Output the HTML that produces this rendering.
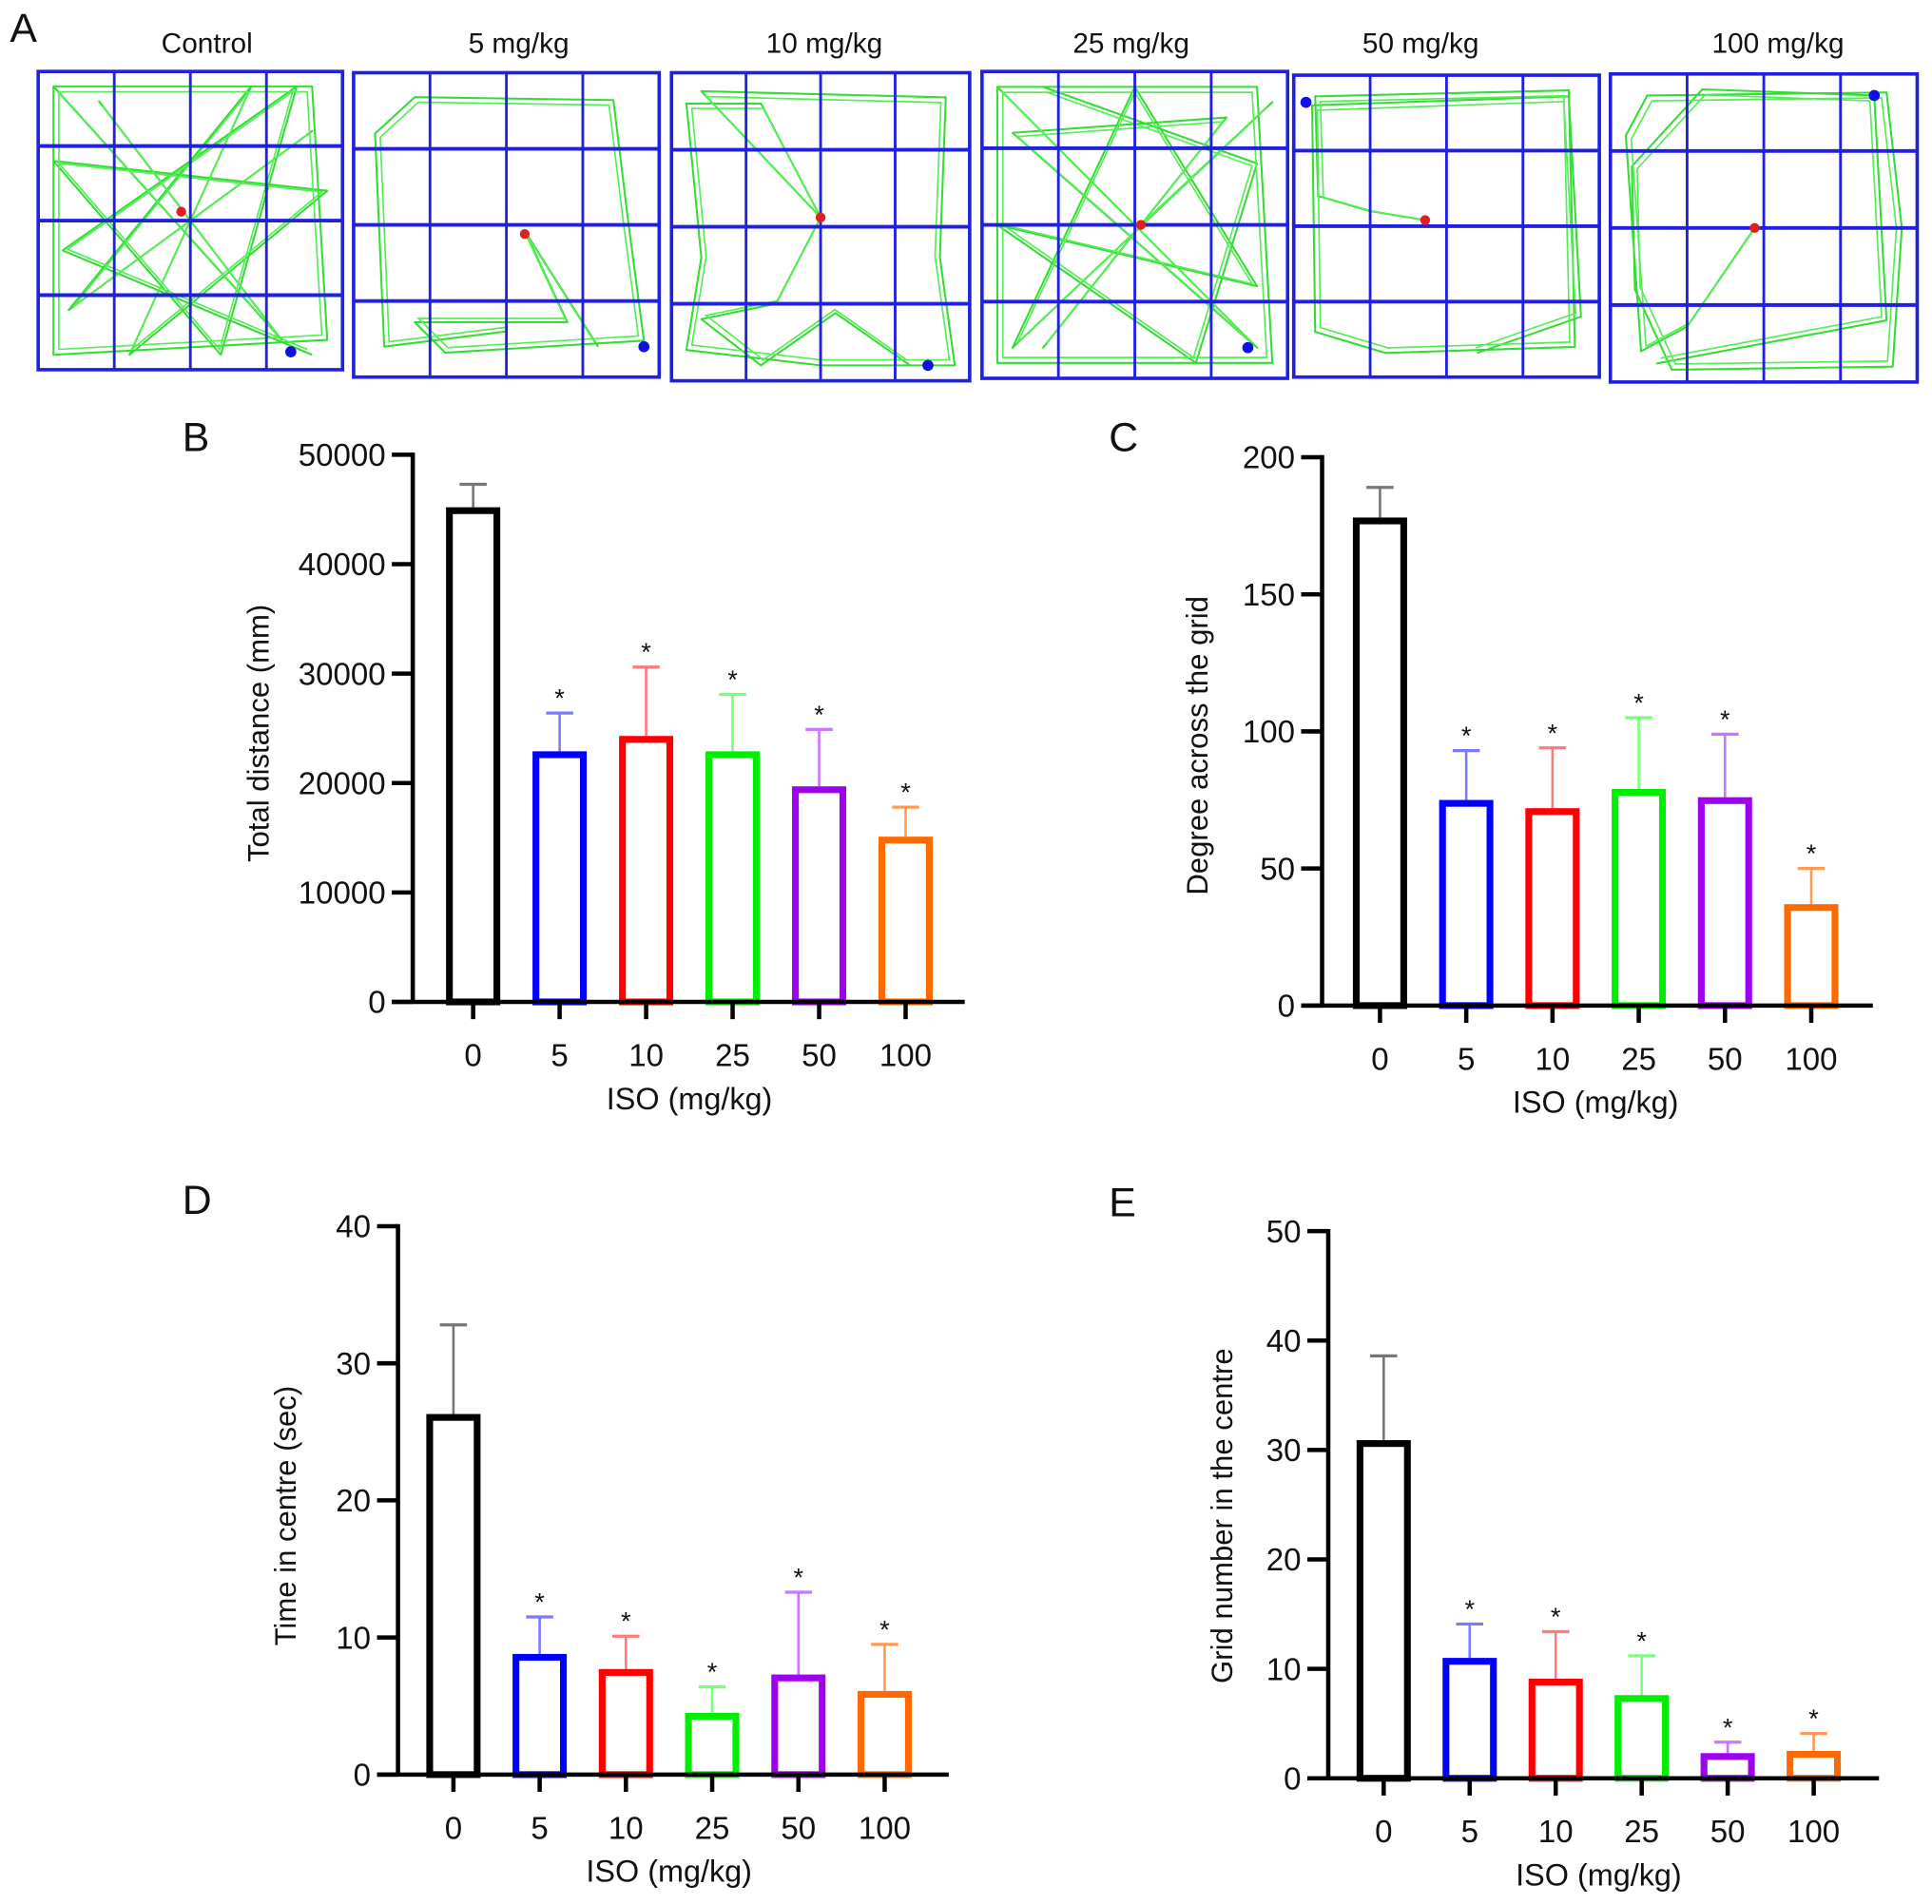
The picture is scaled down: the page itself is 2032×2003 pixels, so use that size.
<!DOCTYPE html>
<html><head><meta charset="utf-8"><style>
html,body{margin:0;padding:0;background:#fff}
svg{display:block}
text{font-family:"Liberation Sans",Arial,sans-serif;fill:#111}
</style></head><body>
<svg id="fig" width="2032" height="2003" viewBox="0 0 1568 1545" preserveAspectRatio="none" xmlns="http://www.w3.org/2000/svg">
<g id="panelA"></g>
<g id="charts"></g>
</svg>
<script>
// ===== Chart data =====
const categories = ["0","5","10","25","50","100"];
const distanceValues = [45200, 22900, 24300, 22900, 19700, 15100];
const distanceErr = [47300, 26400, 30600, 28100, 24900, 17800];
const distanceTicks = [0,10000,20000,30000,40000,50000];
const degreeValues = [178, 75, 72, 79, 76, 37];
const degreeErr = [189, 93, 94, 105, 99, 50];
const degreeTicks = [0,50,100,150,200];
const timeValues = [26.3, 8.8, 7.7, 4.5, 7.3, 6.1];
const timeErr = [32.8, 11.5, 10.1, 6.4, 13.3, 9.5];
const timeTicks = [0,10,20,30,40];
const gridValues = [30.9, 11.0, 9.1, 7.6, 2.3, 2.5];
const gridErr = [38.6, 14.1, 13.4, 11.2, 3.3, 4.1];
const gridTicks = [0,10,20,30,40,50];
const significant = [false, true, true, true, true, true];

const NS = "http://www.w3.org/2000/svg";
function mk(tag, attrs, parent){
  const e = document.createElementNS(NS, tag);
  for (const k in attrs) e.setAttribute(k, attrs[k]);
  parent.appendChild(e);
  return e;
}
const colors = ["#000000","#0000ff","#ff0000","#00ee00","#a000f0","#ff6a00"];
const errColors = ["#777777","#7a7aff","#ff7a7a","#7aff7a","#c878ff","#ff9a55"];

// ===== Panel A =====
const A = document.getElementById("panelA");
let t = mk("text",{x:8,y:34,"font-size":33},A); t.textContent="A";


const boxes = [
 {x:31,y:58,w:247,h:242,title:"Control",tx:168,red:[0.47,0.47],blue:[0.83,0.94]},
 {x:287,y:59,w:248,h:247,title:"5 mg/kg",tx:421,red:[0.56,0.53],blue:[0.95,0.9]},
 {x:545,y:59,w:242,h:250,title:"10 mg/kg",tx:669,red:[0.5,0.47],blue:[0.86,0.95]},
 {x:797,y:58,w:248,h:249,title:"25 mg/kg",tx:918,red:[0.52,0.5],blue:[0.87,0.9]},
 {x:1050,y:61,w:248,h:245,title:"50 mg/kg",tx:1153,red:[0.43,0.48],blue:[0.04,0.09]},
 {x:1307,y:60,w:249,h:250,title:"100 mg/kg",tx:1443,red:[0.47,0.5],blue:[0.86,0.07]}
];
const traces = [
 [[.05,.05],[.9,.05],[.95,.9],[.05,.95],[.05,.05],[.8,.9],[.2,.1],[.5,.5],[.9,.2],[.1,.8],[.7,.05],[.3,.95],[.95,.4],[.05,.3],[.6,.95],[.85,.05],[.08,.6],[.9,.95]],
 [[.56,.5],[.5,.5],[.5,.85],[.1,.9],[.07,.2],[.2,.08],[.85,.09],[.9,.5],[.95,.88],[.3,.92],[.2,.82],[.7,.82],[.56,.52],[.8,.9]],
 [[.5,.47],[.3,.1],[.05,.1],[.1,.6],[.05,.9],[.5,.95],[.95,.95],[.9,.6],[.92,.08],[.1,.06],[.5,.47],[.35,.75],[.1,.8],[.3,.95],[.55,.78],[.8,.95]],
 [[.05,.05],[.9,.05],[.95,.95],[.05,.95],[.05,.05],[.9,.9],[.1,.2],[.8,.15],[.2,.9],[.52,.5],[.95,.1],[.1,.9],[.5,.05],[.9,.7],[.05,.5],[.7,.95],[.9,.3],[.2,.05]],
 [[.43,.48],[.25,.45],[.08,.4],[.07,.07],[.9,.05],[.92,.9],[.3,.92],[.07,.85],[.06,.1],[.9,.07],[.94,.8],[.6,.92]],
 [[.47,.5],[.25,.82],[.1,.9],[.05,.2],[.12,.07],[.9,.06],[.95,.5],[.92,.95],[.2,.96],[.08,.7],[.07,.3],[.3,.05],[.86,.07],[.9,.8],[.15,.94]]
];
boxes.forEach((b,i)=>{
  const g = mk("g",{},A);
  
  
  const tt = mk("text",{x:b.tx,y:43,"font-size":23,"text-anchor":"middle"},g);
  tt.textContent=b.title;
  
  
  const pts = traces[i].map(p=>(b.x+p[0]*b.w).toFixed(1)+","+(b.y+p[1]*b.h).toFixed(1)).join(" ");
  mk("polyline",{points:pts,fill:"none",stroke:"#33dd33","stroke-width":1.6,"stroke-linejoin":"round"},g);
  const pts2 = traces[i].map(p=>(b.x+(p[0]*0.96+0.02)*b.w).toFixed(1)+","+(b.y+(p[1]*0.96+0.02)*b.h).toFixed(1)).join(" ");
  mk("polyline",{points:pts2,fill:"none",stroke:"#55ee55","stroke-width":1.3},g);
  for(let k=1;k<4;k++){
    mk("line",{x1:b.x+k*b.w/4,y1:b.y,x2:b.x+k*b.w/4,y2:b.y+b.h,stroke:"#2020e0","stroke-width":2.2},g);
    mk("line",{x1:b.x,y1:b.y+k*b.h/4,x2:b.x+b.w,y2:b.y+k*b.h/4,stroke:"#2020e0","stroke-width":3},g);
  }
  mk("rect",{x:b.x,y:b.y,width:b.w,height:b.h,fill:"none",stroke:"#2020e0","stroke-width":2.8},g);
  mk("circle",{cx:b.x+b.red[0]*b.w,cy:b.y+b.red[1]*b.h,r:4,fill:"#e02020"},g);
  mk("circle",{cx:b.x+b.blue[0]*b.w,cy:b.y+b.blue[1]*b.h,r:4.5,fill:"#1010e0"},g);
});

// ===== Bar charts =====
const C = document.getElementById("charts");
function chart(cfg){
  const g = mk("g",{},C);
  
  
  const vmax = cfg.ticks[cfg.ticks.length-1];
  const y = v => cfg.y0 - (v/vmax)*(cfg.y0-cfg.yTop);
  const x = i => cfg.cx0 + i*cfg.step;
  const lab = mk("text",{x:cfg.lx,y:cfg.ly,"font-size":33},g); lab.textContent=cfg.letter;
  
  
  cfg.err.forEach((e,i)=>{
    const c = errColors[i];
    mk("line",{x1:x(i),y1:y(cfg.vals[i]),x2:x(i),y2:y(e),stroke:c,"stroke-width":2},g);
    const cap = mk("line",{x1:x(i)-11,y1:y(e),x2:x(i)+11,y2:y(e),stroke:c,"stroke-width":2.5},g);
    
    
    if(significant[i]){
      const s = mk("text",{x:x(i),y:y(e)-5,"font-size":21,"text-anchor":"middle"},g); s.textContent="*";
      
      
    }
  });
  cfg.vals.forEach((v,i)=>{
    const bw=44, sw=5.5;
    const r = mk("rect",{x:x(i)-bw/2+sw/2,y:y(v)+sw/2,width:bw-sw,height:cfg.y0-y(v)-sw/2,fill:"#fff",stroke:colors[i],"stroke-width":sw},g);
    
    
  });
  mk("line",{x1:cfg.ax,y1:cfg.yTop-1.7,x2:cfg.ax,y2:cfg.y0,stroke:"#000","stroke-width":3.5},g);
  const xa = mk("line",{x1:cfg.ax-17,y1:cfg.y0,x2:cfg.xEnd,y2:cfg.y0,stroke:"#000","stroke-width":3.5},g);
  
  
  cfg.ticks.forEach(tv=>{
    mk("line",{x1:cfg.ax-17,y1:y(tv),x2:cfg.ax,y2:y(tv),stroke:"#000","stroke-width":3.5},g);
    const tl = mk("text",{x:cfg.ax-22,y:y(tv)+9,"font-size":25.5,"text-anchor":"end"},g); tl.textContent=String(tv);
    
    
  });
  categories.forEach((c,i)=>{
    mk("line",{x1:x(i),y1:cfg.y0,x2:x(i),y2:cfg.y0+14,stroke:"#000","stroke-width":3.5},g);
    const tl = mk("text",{x:x(i),y:cfg.y0+52,"font-size":25.5,"text-anchor":"middle"},g); tl.textContent=c;
    
    
  });
  const xt = mk("text",{x:(x(0)+x(5))/2,y:cfg.y0+87,"font-size":25,"text-anchor":"middle"},g); xt.textContent="ISO (mg/kg)";
  
  
  const yt = mk("text",{x:0,y:0,"font-size":24,"text-anchor":"middle",transform:`translate(${cfg.ytx},${cfg.yty}) rotate(-90)`},g); yt.textContent=cfg.ytitle;
  
  
}
chart({name:"chart-total-distance",letter:"B",lx:148,ly:366,ax:335,yTop:369,y0:813,xEnd:783,cx0:384,step:70.2,ticks:distanceTicks,vals:distanceValues,err:distanceErr,ytitle:"Total distance (mm)",ytx:218,yty:595});
chart({name:"chart-degree-across-grid",letter:"C",lx:900,ly:366,ax:1073,yTop:371,y0:816,xEnd:1520,cx0:1120,step:70,ticks:degreeTicks,vals:degreeValues,err:degreeErr,ytitle:"Degree across the grid",ytx:980,yty:605});
chart({name:"chart-time-in-centre",letter:"D",lx:148,ly:985,ax:323,yTop:995,y0:1440,xEnd:770,cx0:368,step:70,ticks:timeTicks,vals:timeValues,err:timeErr,ytitle:"Time in centre (sec)",ytx:240,yty:1230});
chart({name:"chart-grid-number-centre",letter:"E",lx:900,ly:987,ax:1078,yTop:999,y0:1443,xEnd:1525,cx0:1123,step:69.8,ticks:gridTicks,vals:gridValues,err:gridErr,ytitle:"Grid number in the centre",ytx:1000,yty:1230});
</script>
</body></html>
